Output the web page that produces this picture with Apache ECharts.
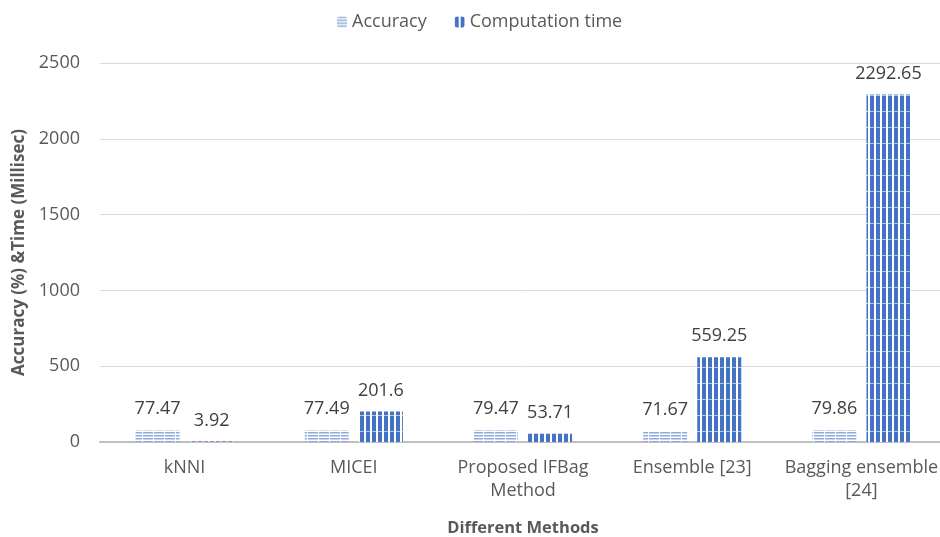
<!DOCTYPE html>
<html>
<head>
<meta charset="utf-8">
<script src="https://cdn.jsdelivr.net/npm/echarts@6/dist/echarts.min.js"></script>
<style>
html,body{margin:0;padding:0;background:#fff;}
#chart{width:940px;height:537px;}
</style>
</head>
<body>
<div id="chart"></div>
<script>
// Methods compared and their measured results
const methods = ['kNNI', 'MICEI', 'Proposed IFBag\nMethod', 'Ensemble [23]', 'Bagging ensemble\n[24]'];
const accuracy = [77.47, 77.49, 79.47, 71.67, 79.86];
const computationTime = [3.92, 201.6, 53.71, 559.25, 2292.65];
const yTicks = [0, 500, 1000, 1500, 2000, 2500];

const FONT = '"Open Sans", "Liberation Sans", sans-serif';

// Light blue horizontal-line fill for accuracy bars
function accuracyPattern() {
  const c = document.createElement('canvas');
  c.width = 11; c.height = 3;
  const g = c.getContext('2d');
  g.fillStyle = '#ffffff'; g.fillRect(0, 0, 11, 3);
  g.fillStyle = '#8eaadb'; g.fillRect(0, 0, 10, 1);
  g.fillStyle = '#c5d3ee'; g.fillRect(0, 1, 10, 1);
  return c;
}
// Dark blue vertical-stripe fill for time bars
function timePattern() {
  const c = document.createElement('canvas');
  c.width = 6; c.height = 16;
  const g = c.getContext('2d');
  g.fillStyle = '#ffffff'; g.fillRect(0, 0, 6, 16);
  g.fillStyle = '#4472c4'; g.fillRect(0, 0, 4, 15);
  g.fillStyle = '#b4c7e7'; g.fillRect(0, 15, 4, 1);
  return c;
}

const chart = echarts.init(document.getElementById('chart'), null, {renderer: 'canvas'});
const labelStyle = {show: true, position: 'top', distance: 12, color: '#404040', fontSize: 18, fontFamily: FONT};

chart.setOption({
  animation: false,
  textStyle: {fontFamily: FONT},
  legend: {
    top: 8, left: 332, itemWidth: 10, itemHeight: 11, itemGap: 28,
    textStyle: {color: '#595959', fontSize: 18, fontFamily: FONT},
    data: ['Accuracy', 'Computation time']
  },
  grid: {left: 100, width: 846, top: 63, height: 379, outerBoundsMode: 'none', containLabel: false},
  xAxis: {
    type: 'category', data: methods,
    name: 'Different Methods', nameLocation: 'middle', nameGap: 78,
    nameTextStyle: {fontWeight: 'bold', color: '#595959', fontSize: 16.5, fontFamily: FONT},
    axisLine: {lineStyle: {color: '#bfbfbf', width: 2}},
    axisTick: {show: false},
    axisLabel: {interval: 0, color: '#595959', fontSize: 18, lineHeight: 23, margin: 14, fontFamily: FONT}
  },
  yAxis: {
    type: 'value', min: yTicks[0], max: yTicks[yTicks.length - 1], interval: 500,
    name: 'Accuracy (%) &Time (Millisec)', nameLocation: 'middle', nameGap: 71,
    nameTextStyle: {fontWeight: 'bold', color: '#595959', fontSize: 17, fontFamily: FONT},
    axisLine: {show: false}, axisTick: {show: false},
    axisLabel: {color: '#595959', fontSize: 18, margin: 20, fontFamily: FONT, formatter: v => String(v)},
    splitLine: {lineStyle: {color: '#d9d9d9', width: 1}}
  },
  series: [
    {
      name: 'Accuracy', type: 'bar', data: accuracy,
      barWidth: 44, barGap: '23%',
      itemStyle: {color: {image: accuracyPattern(), repeat: 'repeat'}},
      label: labelStyle
    },
    {
      name: 'Computation time', type: 'bar', data: computationTime,
      barWidth: 44,
      itemStyle: {color: {image: timePattern(), repeat: 'repeat'}},
      label: labelStyle
    }
  ]
});
</script>
</body>
</html>
